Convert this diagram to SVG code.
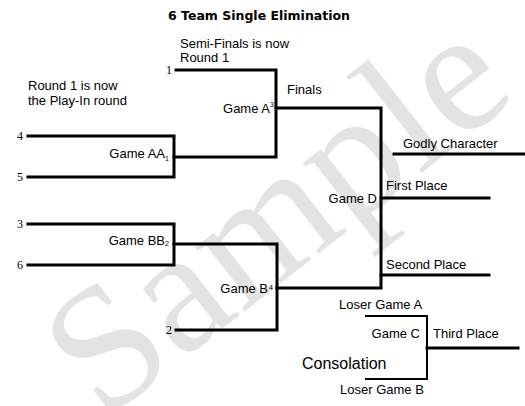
<svg xmlns="http://www.w3.org/2000/svg" width="525" height="406" viewBox="0 0 525 406">
<style>
.bg{fill:#ffffff}
.wm{font-family:"Liberation Serif",serif;fill:#e3e3e3}
.t{font-family:"Liberation Sans",Arial,sans-serif;font-size:13px;fill:#000}
.big{font-size:16px}
.n{font-family:"Liberation Serif",serif;font-size:12px;fill:#000}
.s{font-family:"Liberation Sans",Arial,sans-serif;font-size:7px;fill:#000}
.title{font-family:"DejaVu Sans",Verdana,sans-serif;font-size:12.5px;font-weight:bold;fill:#000}
.ln{fill:none;stroke:#000;stroke-width:3;stroke-linecap:square}
.thin{fill:none;stroke:#000;stroke-width:2}
</style>
<rect class="bg" x="0" y="0" width="525" height="406"/>
<text class="wm" transform="translate(274,212) rotate(-38)" x="0" y="60" text-anchor="middle" font-size="176">Sample</text>
<text class="title" x="259" y="20" text-anchor="middle">6 Team Single Elimination</text>
<g id="notes">
<text class="t" x="180" y="48">Semi-Finals is now</text>
<text class="t" x="180" y="62">Round 1</text>
<text class="t" x="28" y="90">Round 1 is now</text>
<text class="t" x="28" y="105">the Play-In round</text>
<text class="t" x="287" y="94">Finals</text>
</g>
<g id="connectors">
<path class="ln" d="M176,70 H276 V157 H174"/>
<path class="ln" d="M28,136 H174 V177 H28"/>
<path class="ln" d="M28,224 H174 V265 H28"/>
<path class="ln" d="M174,244 H277 V330 H176"/>
<path class="ln" d="M276,108 H381 V288 H277"/>
<path class="ln" d="M381,198 H489"/>
<path class="ln" d="M381,275 H489"/>
<path class="ln" d="M394,154 H525"/>
<path class="thin" d="M365,316 H427 V379 H365"/>
<path class="ln" d="M427,348 H518"/>
</g>
<g id="seeds">
<text class="n" x="166" y="74">1</text>
<text class="n" x="17" y="140">4</text>
<text class="n" x="17" y="181">5</text>
<text class="n" x="17" y="228">3</text>
<text class="n" x="17" y="269">6</text>
<text class="n" x="166" y="334">2</text>
</g>
<g id="gameA"><text class="t" x="270" y="113" text-anchor="end">Game A</text><text class="s" x="270" y="107">3</text></g>
<g id="gameAA"><text class="t" x="165" y="158" text-anchor="end">Game AA</text><text class="s" x="165" y="161">1</text></g>
<g id="gameBB"><text class="t" x="165" y="245" text-anchor="end">Game BB</text><text class="s" x="165" y="246">2</text></g>
<g id="gameB"><text class="t" x="268" y="293" text-anchor="end">Game B</text><text class="s" x="269" y="290">4</text></g>
<g id="gameD"><text class="t" x="377" y="203" text-anchor="end">Game D</text></g>
<g id="godly"><text class="t" x="403" y="148">Godly Character</text></g>
<g id="first"><text class="t" x="386" y="190">First Place</text></g>
<g id="second"><text class="t" x="386" y="269">Second Place</text></g>
<g id="loserA"><text class="t" x="339" y="309">Loser Game A</text></g>
<g id="gameC"><text class="t" x="420" y="338" text-anchor="end">Game C</text></g>
<g id="third"><text class="t" x="433" y="338">Third Place</text></g>
<g id="consolation"><text class="t big" x="302" y="369">Consolation</text></g>
<g id="loserB"><text class="t" x="340" y="394">Loser Game B</text></g>
</svg>
